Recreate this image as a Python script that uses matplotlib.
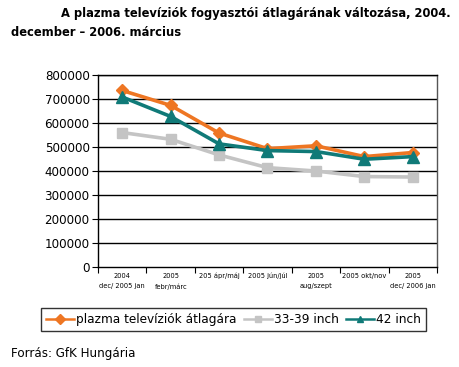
import numpy as np
import matplotlib.pyplot as plt

# data
periods = ["2004\ndec/ 2005 jan", "2005\nfebr/márc", "205 ápr/máj", "2005 jún/júl",
           "2005\naug/szept", "2005 okt/nov", "2005\ndec/ 2006 jan"]
avg_price = [735000, 673000, 558000, 493000, 505000, 460000, 477000]
inch_33_39 = [560000, 532000, 467000, 414000, 400000, 377000, 375000]
inch_42 = [708000, 627000, 513000, 485000, 481000, 449000, 460000]

series_names = ["plazma televíziók átlagára", "33-39 inch", "42 inch"]
yticks = [0, 100000, 200000, 300000, 400000, 500000, 600000, 700000, 800000]

ORANGE = "#EE7623"
GRAY = "#C4C4C4"
TEAL = "#107A78"

fig = plt.figure(figsize=(4.6, 3.67), dpi=100)
ax = fig.add_axes([0.213, 0.272, 0.737, 0.524])

x = np.arange(len(periods))
ax.plot(x, avg_price, color=ORANGE, lw=2.6, marker="D", ms=6.5, label=series_names[0], zorder=3)
ax.plot(x, inch_33_39, color=GRAY, lw=2.6, marker="s", ms=7, label=series_names[1], zorder=3)
ax.plot(x, inch_42, color=TEAL, lw=2.6, marker="^", ms=8, label=series_names[2], zorder=4)

ax.set_ylim(0, 800000)
ax.set_xlim(-0.5, len(periods) - 0.5)
ax.set_yticks(yticks)
ax.set_yticklabels([str(v) for v in yticks], fontsize=8.6)
for yv in yticks[1:]:
    ax.axhline(yv, color="black", lw=1.0, zorder=1)

# category labels between boundary ticks
ax.set_xticks(np.arange(-0.5, len(periods), 1))
ax.set_xticklabels([])
ax.set_xticks(x, minor=True)
ax.set_xticklabels(periods, minor=True, fontsize=4.8, linespacing=1.9)
ax.tick_params(axis="x", which="minor", length=0, pad=4)
ax.tick_params(axis="x", which="major", length=4, direction="out", width=0.8)
ax.tick_params(axis="y", length=4, direction="out", width=0.8, pad=2)

for s in ax.spines.values():
    s.set_color("black")
    s.set_linewidth(1.0)
ax.spines["right"].set_color("#555555")

fig.text(0.133, 0.962, "A plazma televíziók fogyasztói átlagárának változása, 2004.",
         fontsize=8.3, fontweight="bold", va="center", ha="left")
fig.text(0.024, 0.911, "december – 2006. március",
         fontsize=8.3, fontweight="bold", va="center", ha="left")

leg = fig.legend(loc="center", bbox_to_anchor=(0.508, 0.13), ncol=3, fontsize=8.7,
                 frameon=True, fancybox=False, edgecolor="black", borderpad=0.4,
                 handlelength=2.3, handletextpad=0.2, columnspacing=0.6, borderaxespad=0)
leg.get_frame().set_linewidth(1.0)
for line in leg.get_lines():
    line.set_linewidth(1.8)
    line.set_markersize(5)

fig.text(0.024, 0.038, "Forrás: GfK Hungária", fontsize=8.6, va="center", ha="left")

fig.savefig("out.png", dpi=100)
